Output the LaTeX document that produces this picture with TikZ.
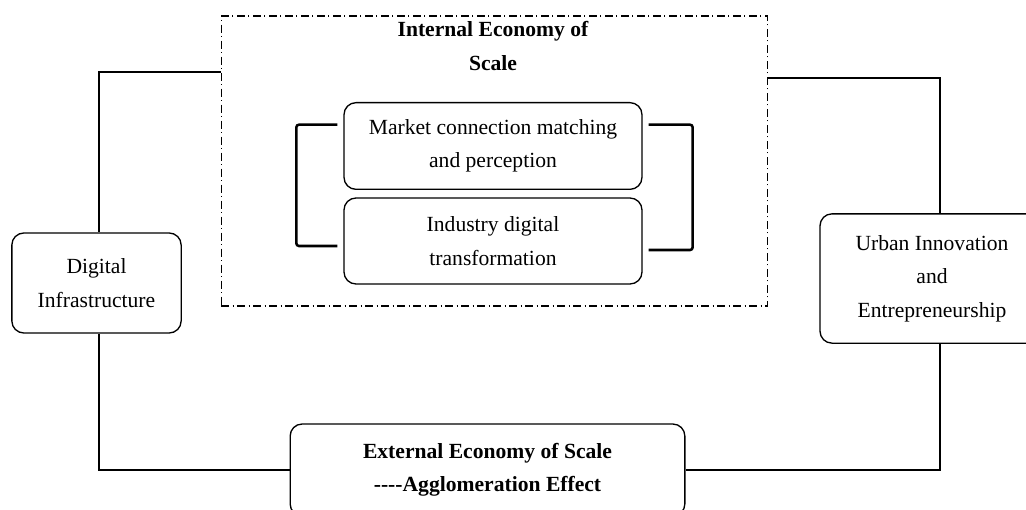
\documentclass[tikz,border=0pt]{standalone}
\usepackage{fontspec}
\setmainfont{Liberation Serif}
\usetikzlibrary{positioning}

\tikzset{
  rbox/.style={draw, line width=1pt, rounded corners=9pt, align=center, inner sep=0pt},
  link/.style={line width=1.9pt},
  dashbox/.style={draw, line width=0.8pt, dash pattern=on 6pt off 2.5pt on 1pt off 2.5pt, inner sep=0pt},
}
\newcommand{\boxfont}{\fontsize{16.2}{25}\selectfont}

\begin{document}
\begin{tikzpicture}[x=0.75pt,y=0.75pt,yscale=-1,xscale=1]
\useasboundingbox (0,0) rectangle (1026,510);
\clip (0,0) rectangle (1026,510);

%Shape: Dash-dot frame
\node[dashbox, minimum width=410pt, minimum height=217.5pt] (internal) at (494.5,161) {};
% Text Node
\node[align=center, font=\boxfont\bfseries] (title) at (493,46) {Internal Economy of\\Scale};

%Shape: Rounded boxes
\node[rbox, minimum width=223.5pt, minimum height=65pt, font=\boxfont] (market) at (493,146) {Market connection matching\\and perception};
\node[rbox, minimum width=223.5pt, minimum height=64.5pt, font=\boxfont] (industry) at (493,241) {Industry digital\\transformation};
\node[rbox, minimum width=127pt, minimum height=75pt, font=\boxfont] (digital) at (96.5,283) {Digital\\Infrastructure};
\node[rbox, minimum width=168pt, minimum height=97pt, font=\boxfont] (urban) at (932,278.5) {Urban Innovation\\and\\Entrepreneurship};
\node[rbox, minimum width=296pt, minimum height=69pt, font=\boxfont\bfseries] (external) at (487.5,470) {External Economy of Scale\\-{}-{}-{}-Agglomeration Effect};

%Straight Lines: brackets (yshift follows yscale=-1)
\draw[link, rounded corners=2pt] ([xshift=-4.5pt,yshift=-16pt]market.west) -- ++(-41,0) |- ([xshift=-4.5pt,yshift=3.75pt]industry.west);
\draw[link, rounded corners=2pt] ([xshift=4.5pt,yshift=-16pt]market.east) -- ++(44,0) |- ([xshift=4.5pt,yshift=6.75pt]industry.east);

%Straight Lines: outer loop
\draw[link] (internal.west |- 0,72) -| ([xshift=2pt]digital.north);
\draw[link] ([xshift=2pt]digital.south) |- (external.west);
\draw[link] (external.east) -| ([xshift=6pt]urban.south);
\draw[link] ([xshift=6pt]urban.north) |- (internal.east |- 0,78);

\end{tikzpicture}
\end{document}
